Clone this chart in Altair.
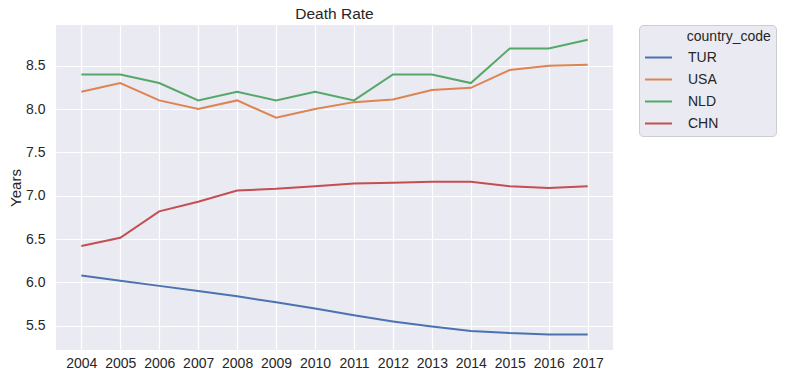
import altair as alt
import pandas as pd

years = list(range(2004, 2018))
countries = ["TUR", "USA", "NLD", "CHN"]
tur = [6.08, 6.02, 5.96, 5.90, 5.84, 5.77, 5.70, 5.62, 5.55, 5.49, 5.44, 5.415, 5.40, 5.40]
usa = [8.2, 8.3, 8.1, 8.0, 8.1, 7.9, 8.0, 8.08, 8.11, 8.22, 8.245, 8.45, 8.5, 8.51]
nld = [8.4, 8.4, 8.3, 8.1, 8.2, 8.1, 8.2, 8.1, 8.4, 8.4, 8.3, 8.7, 8.7, 8.8]
chn = [6.42, 6.515, 6.82, 6.93, 7.06, 7.08, 7.11, 7.14, 7.15, 7.16, 7.16, 7.11, 7.09, 7.11]
colors = ["#4c72b0", "#dd8452", "#55a868", "#c44e52"]
y_ticks = [5.5, 6.0, 6.5, 7.0, 7.5, 8.0, 8.5]

rows = []
for c, vals in zip(countries, [tur, usa, nld, chn]):
    for yr, v in zip(years, vals):
        rows.append({"year": yr, "value": v, "country_code": c})
df = pd.DataFrame(rows)

FONT = "Liberation Sans"
TXT = "#262626"
# zero-width space keeps the non-breaking spaces from being trimmed
legend_title = "\u200b" + "\u00a0" * 11 + "country_code"

chart = alt.Chart(df).mark_line(strokeWidth=2).encode(
    x=alt.X("year:Q",
            scale=alt.Scale(domain=[2003.35, 2017.65], nice=False, zero=False),
            axis=alt.Axis(values=years, format="d", title=None, labelFontSize=14,
                          labelPadding=6, labelColor=TXT, labelFont=FONT,
                          domain=False, ticks=False, grid=True, gridColor="white",
                          gridWidth=1.2, labelFlush=False)),
    y=alt.Y("value:Q",
            scale=alt.Scale(domain=[5.22, 8.97], nice=False, zero=False),
            axis=alt.Axis(values=y_ticks, format=".1f", title="Years", titleFontSize=15,
                          titleFont=FONT, titleColor=TXT, titleFontWeight="normal",
                          titlePadding=2, labelFontSize=14, labelPadding=11,
                          labelColor=TXT, labelFont=FONT, domain=False, ticks=False,
                          grid=True, gridColor="white", gridWidth=1.2)),
    color=alt.Color("country_code:N",
                    scale=alt.Scale(domain=countries, range=colors),
                    sort=countries,
                    legend=alt.Legend(
                        title=legend_title,
                        orient="none", legendX=583, legendY=0,
                        symbolType="stroke", symbolSize=729, symbolStrokeWidth=2,
                        labelFontSize=14, titleFontSize=14, labelFont=FONT,
                        titleFont=FONT, labelColor=TXT, titleColor=TXT,
                        titleFontWeight="normal", labelOffset=15, rowPadding=-2,
                        titlePadding=-1, padding=5, fillColor="#eaeaf2",
                        strokeColor="#cccccc", cornerRadius=4)),
).properties(
    width=557, height=325,
    title=alt.TitleParams("Death Rate", fontSize=15.5, font=FONT, color=TXT,
                          fontWeight="normal", offset=2),
    autosize=alt.AutoSizeParams(type="none"),
    padding={"left": 48, "top": 17, "right": 164, "bottom": 28},
).configure_view(fill="#eaeaf2", stroke=None)

chart.save("out.html", embed_options={"renderer": "svg", "actions": False})
